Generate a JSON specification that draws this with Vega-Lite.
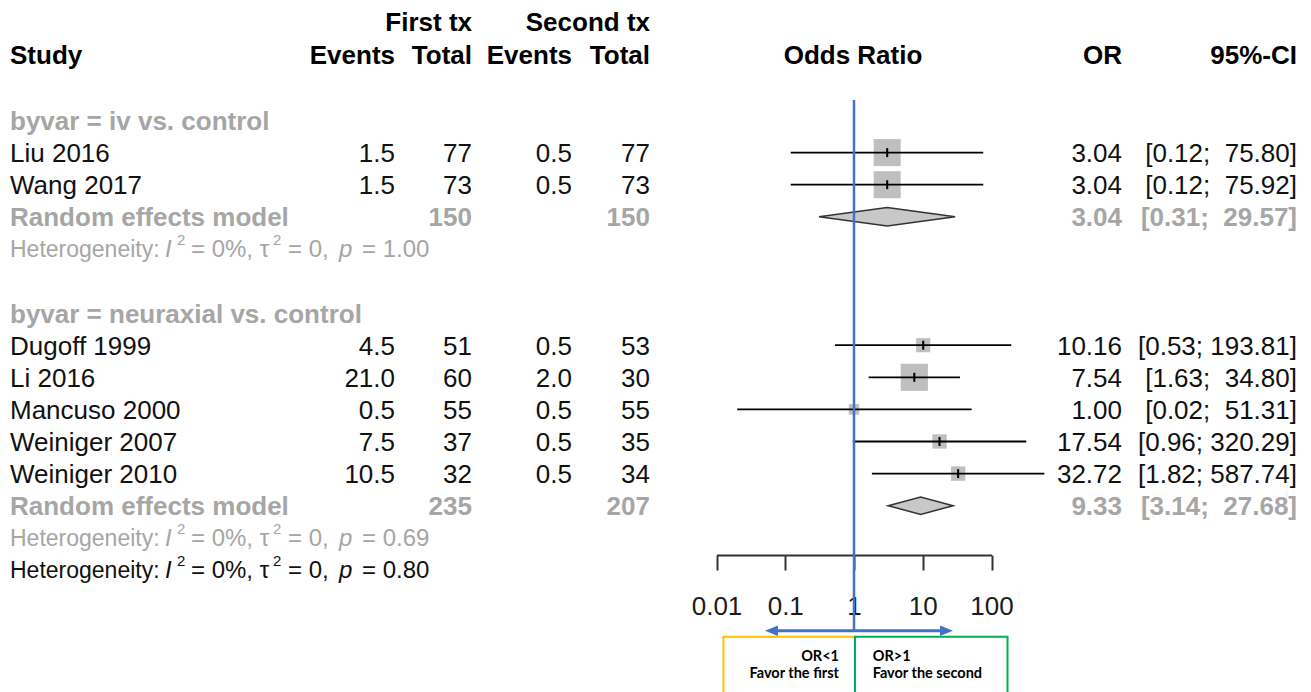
{
"$schema":"https://vega.github.io/schema/vega-lite/v6.json",
"width":1311,"height":692,"padding":0,"autosize":{"type":"none"},
"config":{"view":{"stroke":null},"text":{"font":"Liberation Sans","fontSize":26,"dy":1.5}},
"datasets":{
 "table":[
  {"row":-0.08,"kind":"header","n1":"First tx","n2":"Second tx"},
  {"row":0.93,"kind":"header","label":"Study","e1":"Events","n1":"Total","e2":"Events","n2":"Total","plot":"Odds Ratio","or":"OR","ci":"95%-CI"},
  {"row":3,"kind":"subgroup","label":"byvar = iv vs. control"},
  {"row":4,"kind":"study","label":"Liu 2016","e1":"1.5","n1":"77","e2":"0.5","n2":"77","or":"3.04","ci":"[0.12;\u00a0\u00a075.80]","est":3.04,"lower":0.12,"upper":75.80,"weight":50},
  {"row":5,"kind":"study","label":"Wang 2017","e1":"1.5","n1":"73","e2":"0.5","n2":"73","or":"3.04","ci":"[0.12;\u00a0\u00a075.92]","est":3.04,"lower":0.12,"upper":75.92,"weight":50},
  {"row":6,"kind":"pooled","label":"Random effects model","n1":"150","n2":"150","or":"3.04","ci":"[0.31;\u00a0\u00a029.57]"},
  {"row":7,"kind":"het_sub","hlabel":"Heterogeneity:","seg1":"= 0%, τ","seg2":"= 0,","seg3":"= 1.00"},
  {"row":9,"kind":"subgroup","label":"byvar = neuraxial vs. control"},
  {"row":10,"kind":"study","label":"Dugoff 1999","e1":"4.5","n1":"51","e2":"0.5","n2":"53","or":"10.16","ci":"[0.53; 193.81]","est":10.16,"lower":0.53,"upper":193.81,"weight":13.6},
  {"row":11,"kind":"study","label":"Li 2016","e1":"21.0","n1":"60","e2":"2.0","n2":"30","or":"7.54","ci":"[1.63;\u00a0\u00a034.80]","est":7.54,"lower":1.63,"upper":34.80,"weight":50.6},
  {"row":12,"kind":"study","label":"Mancuso 2000","e1":"0.5","n1":"55","e2":"0.5","n2":"55","or":"1.00","ci":"[0.02;\u00a0\u00a051.31]","est":1.00,"lower":0.02,"upper":51.31,"weight":7.6},
  {"row":13,"kind":"study","label":"Weiniger 2007","e1":"7.5","n1":"37","e2":"0.5","n2":"35","or":"17.54","ci":"[0.96; 320.29]","est":17.54,"lower":0.96,"upper":320.29,"weight":14.0},
  {"row":14,"kind":"study","label":"Weiniger 2010","e1":"10.5","n1":"32","e2":"0.5","n2":"34","or":"32.72","ci":"[1.82; 587.74]","est":32.72,"lower":1.82,"upper":587.74,"weight":14.2},
  {"row":15,"kind":"pooled","label":"Random effects model","n1":"235","n2":"207","or":"9.33","ci":"[3.14;\u00a0\u00a027.68]"},
  {"row":16,"kind":"het_sub","hlabel":"Heterogeneity:","seg1":"= 0%, τ","seg2":"= 0,","seg3":"= 0.69"},
  {"row":17,"kind":"het_all","hlabel":"Heterogeneity:","seg1":"= 0%, τ","seg2":"= 0,","seg3":"= 0.80"}
 ],
 "diamonds":[
  {"model":"iv vs. control","or":0.31,"top":6,"bottom":6},
  {"model":"iv vs. control","or":3.04,"top":5.71,"bottom":6.29},
  {"model":"iv vs. control","or":29.57,"top":6,"bottom":6},
  {"model":"neuraxial vs. control","or":3.14,"top":15,"bottom":15},
  {"model":"neuraxial vs. control","or":9.33,"top":14.73,"bottom":15.27},
  {"model":"neuraxial vs. control","or":27.68,"top":15,"bottom":15}
 ],
 "notes":[
  {"side":"first","head":"OR<1","text":"Favor the first"},
  {"side":"second","head":"OR>1","text":"Favor the second"}
 ]
},
"data":{"name":"table"},
"resolve":{"scale":{"x":"independent"}},
"layer":[
 {"layer":[
  {"transform":[{"filter":"isValid(datum.label) && (datum.kind==='header'||datum.kind==='subgroup'||datum.kind==='pooled')"}],
   "mark":{"type":"text","align":"left","baseline":"middle","fontWeight":"bold"},
   "encoding":{"x":{"datum":10,"type":"quantitative","scale":{"domain":[0,1311],"range":[0,1311],"nice":false,"zero":false},"axis":null},
    "y":{"field":"row","type":"quantitative","scale":{"domain":[-0.7539,20.804],"reverse":true,"nice":false,"zero":false},"axis":null},
    "text":{"field":"label","type":"nominal"},
    "color":{"field":"kind","type":"nominal","scale":{"domain":["header","study","subgroup","pooled","het_sub","het_all"],"range":["#000000","#111111","#a6a6a6","#a6a6a6","#a6a6a6","#111111"]},"legend":null}}},
  {"transform":[{"filter":"isValid(datum.label) && !(datum.kind==='header'||datum.kind==='subgroup'||datum.kind==='pooled')"}],
   "mark":{"type":"text","align":"left","baseline":"middle","fontWeight":"normal"},
   "encoding":{"x":{"datum":10,"type":"quantitative","scale":{"domain":[0,1311],"range":[0,1311],"nice":false,"zero":false},"axis":null},
    "y":{"field":"row","type":"quantitative","scale":{"domain":[-0.7539,20.804],"reverse":true,"nice":false,"zero":false},"axis":null},
    "text":{"field":"label","type":"nominal"},
    "color":{"field":"kind","type":"nominal","legend":null}}},
  {"transform":[{"filter":"isValid(datum.hlabel)"}],
   "mark":{"type":"text","align":"left","baseline":"middle","fontSize":23},
   "encoding":{"x":{"datum":10,"type":"quantitative","scale":{"domain":[0,1311],"range":[0,1311],"nice":false,"zero":false},"axis":null},
    "y":{"field":"row","type":"quantitative","scale":{"domain":[-0.7539,20.804],"reverse":true,"nice":false,"zero":false},"axis":null},
    "text":{"field":"hlabel","type":"nominal"},"color":{"field":"kind","type":"nominal","legend":null}}},
  {"transform":[{"filter":"isValid(datum.hlabel)"}],
   "mark":{"type":"text","align":"left","baseline":"middle","fontSize":24,"fontStyle":"italic"},
   "encoding":{"x":{"datum":165,"type":"quantitative","scale":{"domain":[0,1311],"range":[0,1311],"nice":false,"zero":false},"axis":null},
    "y":{"field":"row","type":"quantitative","scale":{"domain":[-0.7539,20.804],"reverse":true,"nice":false,"zero":false},"axis":null},
    "text":{"value":"I"},"color":{"field":"kind","type":"nominal","legend":null}}},
  {"transform":[{"filter":"isValid(datum.hlabel)"}],
   "mark":{"type":"text","align":"left","baseline":"middle","fontSize":15,"dy":-9},
   "encoding":{"x":{"datum":177,"type":"quantitative","scale":{"domain":[0,1311],"range":[0,1311],"nice":false,"zero":false},"axis":null},
    "y":{"field":"row","type":"quantitative","scale":{"domain":[-0.7539,20.804],"reverse":true,"nice":false,"zero":false},"axis":null},
    "text":{"value":"2"},"color":{"field":"kind","type":"nominal","legend":null}}},
  {"transform":[{"filter":"isValid(datum.hlabel)"}],
   "mark":{"type":"text","align":"left","baseline":"middle","fontSize":24},
   "encoding":{"x":{"datum":191,"type":"quantitative","scale":{"domain":[0,1311],"range":[0,1311],"nice":false,"zero":false},"axis":null},
    "y":{"field":"row","type":"quantitative","scale":{"domain":[-0.7539,20.804],"reverse":true,"nice":false,"zero":false},"axis":null},
    "text":{"field":"seg1","type":"nominal"},"color":{"field":"kind","type":"nominal","legend":null}}},
  {"transform":[{"filter":"isValid(datum.hlabel)"}],
   "mark":{"type":"text","align":"left","baseline":"middle","fontSize":15,"dy":-9},
   "encoding":{"x":{"datum":273,"type":"quantitative","scale":{"domain":[0,1311],"range":[0,1311],"nice":false,"zero":false},"axis":null},
    "y":{"field":"row","type":"quantitative","scale":{"domain":[-0.7539,20.804],"reverse":true,"nice":false,"zero":false},"axis":null},
    "text":{"value":"2"},"color":{"field":"kind","type":"nominal","legend":null}}},
  {"transform":[{"filter":"isValid(datum.hlabel)"}],
   "mark":{"type":"text","align":"left","baseline":"middle","fontSize":24},
   "encoding":{"x":{"datum":288,"type":"quantitative","scale":{"domain":[0,1311],"range":[0,1311],"nice":false,"zero":false},"axis":null},
    "y":{"field":"row","type":"quantitative","scale":{"domain":[-0.7539,20.804],"reverse":true,"nice":false,"zero":false},"axis":null},
    "text":{"field":"seg2","type":"nominal"},"color":{"field":"kind","type":"nominal","legend":null}}},
  {"transform":[{"filter":"isValid(datum.hlabel)"}],
   "mark":{"type":"text","align":"left","baseline":"middle","fontSize":24,"fontStyle":"italic"},
   "encoding":{"x":{"datum":339,"type":"quantitative","scale":{"domain":[0,1311],"range":[0,1311],"nice":false,"zero":false},"axis":null},
    "y":{"field":"row","type":"quantitative","scale":{"domain":[-0.7539,20.804],"reverse":true,"nice":false,"zero":false},"axis":null},
    "text":{"value":"p"},"color":{"field":"kind","type":"nominal","legend":null}}},
  {"transform":[{"filter":"isValid(datum.hlabel)"}],
   "mark":{"type":"text","align":"left","baseline":"middle","fontSize":24},
   "encoding":{"x":{"datum":362,"type":"quantitative","scale":{"domain":[0,1311],"range":[0,1311],"nice":false,"zero":false},"axis":null},
    "y":{"field":"row","type":"quantitative","scale":{"domain":[-0.7539,20.804],"reverse":true,"nice":false,"zero":false},"axis":null},
    "text":{"field":"seg3","type":"nominal"},"color":{"field":"kind","type":"nominal","legend":null}}},
  {"transform":[{"filter":"isValid(datum.e1) && (datum.kind==='header'||datum.kind==='subgroup'||datum.kind==='pooled')"}],
   "mark":{"type":"text","align":"right","baseline":"middle","fontWeight":"bold"},
   "encoding":{"x":{"datum":395,"type":"quantitative","scale":{"domain":[0,1311],"range":[0,1311],"nice":false,"zero":false},"axis":null},
    "y":{"field":"row","type":"quantitative","scale":{"domain":[-0.7539,20.804],"reverse":true,"nice":false,"zero":false},"axis":null},
    "text":{"field":"e1","type":"nominal"},"color":{"field":"kind","type":"nominal","legend":null}}},
  {"transform":[{"filter":"isValid(datum.e1) && !(datum.kind==='header'||datum.kind==='subgroup'||datum.kind==='pooled')"}],
   "mark":{"type":"text","align":"right","baseline":"middle","fontWeight":"normal"},
   "encoding":{"x":{"datum":395,"type":"quantitative","scale":{"domain":[0,1311],"range":[0,1311],"nice":false,"zero":false},"axis":null},
    "y":{"field":"row","type":"quantitative","scale":{"domain":[-0.7539,20.804],"reverse":true,"nice":false,"zero":false},"axis":null},
    "text":{"field":"e1","type":"nominal"},"color":{"field":"kind","type":"nominal","legend":null}}},
  {"transform":[{"filter":"isValid(datum.n1) && (datum.kind==='header'||datum.kind==='subgroup'||datum.kind==='pooled')"}],
   "mark":{"type":"text","align":"right","baseline":"middle","fontWeight":"bold"},
   "encoding":{"x":{"datum":472,"type":"quantitative","scale":{"domain":[0,1311],"range":[0,1311],"nice":false,"zero":false},"axis":null},
    "y":{"field":"row","type":"quantitative","scale":{"domain":[-0.7539,20.804],"reverse":true,"nice":false,"zero":false},"axis":null},
    "text":{"field":"n1","type":"nominal"},"color":{"field":"kind","type":"nominal","legend":null}}},
  {"transform":[{"filter":"isValid(datum.n1) && !(datum.kind==='header'||datum.kind==='subgroup'||datum.kind==='pooled')"}],
   "mark":{"type":"text","align":"right","baseline":"middle","fontWeight":"normal"},
   "encoding":{"x":{"datum":472,"type":"quantitative","scale":{"domain":[0,1311],"range":[0,1311],"nice":false,"zero":false},"axis":null},
    "y":{"field":"row","type":"quantitative","scale":{"domain":[-0.7539,20.804],"reverse":true,"nice":false,"zero":false},"axis":null},
    "text":{"field":"n1","type":"nominal"},"color":{"field":"kind","type":"nominal","legend":null}}},
  {"transform":[{"filter":"isValid(datum.e2) && (datum.kind==='header'||datum.kind==='subgroup'||datum.kind==='pooled')"}],
   "mark":{"type":"text","align":"right","baseline":"middle","fontWeight":"bold"},
   "encoding":{"x":{"datum":572,"type":"quantitative","scale":{"domain":[0,1311],"range":[0,1311],"nice":false,"zero":false},"axis":null},
    "y":{"field":"row","type":"quantitative","scale":{"domain":[-0.7539,20.804],"reverse":true,"nice":false,"zero":false},"axis":null},
    "text":{"field":"e2","type":"nominal"},"color":{"field":"kind","type":"nominal","legend":null}}},
  {"transform":[{"filter":"isValid(datum.e2) && !(datum.kind==='header'||datum.kind==='subgroup'||datum.kind==='pooled')"}],
   "mark":{"type":"text","align":"right","baseline":"middle","fontWeight":"normal"},
   "encoding":{"x":{"datum":572,"type":"quantitative","scale":{"domain":[0,1311],"range":[0,1311],"nice":false,"zero":false},"axis":null},
    "y":{"field":"row","type":"quantitative","scale":{"domain":[-0.7539,20.804],"reverse":true,"nice":false,"zero":false},"axis":null},
    "text":{"field":"e2","type":"nominal"},"color":{"field":"kind","type":"nominal","legend":null}}},
  {"transform":[{"filter":"isValid(datum.n2) && (datum.kind==='header'||datum.kind==='subgroup'||datum.kind==='pooled')"}],
   "mark":{"type":"text","align":"right","baseline":"middle","fontWeight":"bold"},
   "encoding":{"x":{"datum":650,"type":"quantitative","scale":{"domain":[0,1311],"range":[0,1311],"nice":false,"zero":false},"axis":null},
    "y":{"field":"row","type":"quantitative","scale":{"domain":[-0.7539,20.804],"reverse":true,"nice":false,"zero":false},"axis":null},
    "text":{"field":"n2","type":"nominal"},"color":{"field":"kind","type":"nominal","legend":null}}},
  {"transform":[{"filter":"isValid(datum.n2) && !(datum.kind==='header'||datum.kind==='subgroup'||datum.kind==='pooled')"}],
   "mark":{"type":"text","align":"right","baseline":"middle","fontWeight":"normal"},
   "encoding":{"x":{"datum":650,"type":"quantitative","scale":{"domain":[0,1311],"range":[0,1311],"nice":false,"zero":false},"axis":null},
    "y":{"field":"row","type":"quantitative","scale":{"domain":[-0.7539,20.804],"reverse":true,"nice":false,"zero":false},"axis":null},
    "text":{"field":"n2","type":"nominal"},"color":{"field":"kind","type":"nominal","legend":null}}},
  {"transform":[{"filter":"isValid(datum.plot)"}],
   "mark":{"type":"text","align":"center","baseline":"middle","fontWeight":"bold"},
   "encoding":{"x":{"datum":853,"type":"quantitative","scale":{"domain":[0,1311],"range":[0,1311],"nice":false,"zero":false},"axis":null},
    "y":{"field":"row","type":"quantitative","scale":{"domain":[-0.7539,20.804],"reverse":true,"nice":false,"zero":false},"axis":null},
    "text":{"field":"plot","type":"nominal"},"color":{"field":"kind","type":"nominal","legend":null}}},
  {"transform":[{"filter":"isValid(datum.or) && (datum.kind==='header'||datum.kind==='subgroup'||datum.kind==='pooled')"}],
   "mark":{"type":"text","align":"right","baseline":"middle","fontWeight":"bold"},
   "encoding":{"x":{"datum":1122,"type":"quantitative","scale":{"domain":[0,1311],"range":[0,1311],"nice":false,"zero":false},"axis":null},
    "y":{"field":"row","type":"quantitative","scale":{"domain":[-0.7539,20.804],"reverse":true,"nice":false,"zero":false},"axis":null},
    "text":{"field":"or","type":"nominal"},"color":{"field":"kind","type":"nominal","legend":null}}},
  {"transform":[{"filter":"isValid(datum.or) && !(datum.kind==='header'||datum.kind==='subgroup'||datum.kind==='pooled')"}],
   "mark":{"type":"text","align":"right","baseline":"middle","fontWeight":"normal"},
   "encoding":{"x":{"datum":1122,"type":"quantitative","scale":{"domain":[0,1311],"range":[0,1311],"nice":false,"zero":false},"axis":null},
    "y":{"field":"row","type":"quantitative","scale":{"domain":[-0.7539,20.804],"reverse":true,"nice":false,"zero":false},"axis":null},
    "text":{"field":"or","type":"nominal"},"color":{"field":"kind","type":"nominal","legend":null}}},
  {"transform":[{"filter":"isValid(datum.ci) && (datum.kind==='header'||datum.kind==='subgroup'||datum.kind==='pooled')"}],
   "mark":{"type":"text","align":"right","baseline":"middle","fontWeight":"bold"},
   "encoding":{"x":{"datum":1297,"type":"quantitative","scale":{"domain":[0,1311],"range":[0,1311],"nice":false,"zero":false},"axis":null},
    "y":{"field":"row","type":"quantitative","scale":{"domain":[-0.7539,20.804],"reverse":true,"nice":false,"zero":false},"axis":null},
    "text":{"field":"ci","type":"nominal"},"color":{"field":"kind","type":"nominal","legend":null}}},
  {"transform":[{"filter":"isValid(datum.ci) && !(datum.kind==='header'||datum.kind==='subgroup'||datum.kind==='pooled')"}],
   "mark":{"type":"text","align":"right","baseline":"middle","fontWeight":"normal"},
   "encoding":{"x":{"datum":1297,"type":"quantitative","scale":{"domain":[0,1311],"range":[0,1311],"nice":false,"zero":false},"axis":null},
    "y":{"field":"row","type":"quantitative","scale":{"domain":[-0.7539,20.804],"reverse":true,"nice":false,"zero":false},"axis":null},
    "text":{"field":"ci","type":"nominal"},"color":{"field":"kind","type":"nominal","legend":null}}},
  {"data":{"values":[{}]},
   "mark":{"type":"rect","filled":false,"stroke":"#FFC000","strokeWidth":2},
   "encoding":{"x":{"datum":723.5,"type":"quantitative","scale":{"domain":[0,1311],"range":[0,1311],"nice":false,"zero":false},"axis":null},"x2":{"datum":855},
    "y":{"datum":19.081,"type":"quantitative","scale":{"domain":[-0.7539,20.804],"reverse":true,"nice":false,"zero":false},"axis":null},"y2":{"datum":20.9}}},
  {"data":{"values":[{}]},
   "mark":{"type":"rect","filled":false,"stroke":"#00B050","strokeWidth":2},
   "encoding":{"x":{"datum":855,"type":"quantitative","scale":{"domain":[0,1311],"range":[0,1311],"nice":false,"zero":false},"axis":null},"x2":{"datum":1007.5},
    "y":{"datum":19.081,"type":"quantitative","scale":{"domain":[-0.7539,20.804],"reverse":true,"nice":false,"zero":false},"axis":null},"y2":{"datum":20.9}}},
  {"data":{"values":[{}]},
   "mark":{"type":"rule","color":"#4472C4","strokeWidth":3},
   "encoding":{"x":{"datum":776,"type":"quantitative","scale":{"domain":[0,1311],"range":[0,1311],"nice":false,"zero":false},"axis":null},"x2":{"datum":942},
    "y":{"datum":18.894,"type":"quantitative","scale":{"domain":[-0.7539,20.804],"reverse":true,"nice":false,"zero":false},"axis":null}}},
  {"data":{"values":[{}]},
   "mark":{"type":"point","shape":"M-1,0L1,-0.8L1,0.8Z","size":169,"filled":true,"color":"#4472C4","opacity":1,"strokeWidth":0},
   "encoding":{"x":{"datum":771.5,"type":"quantitative","scale":{"domain":[0,1311],"range":[0,1311],"nice":false,"zero":false},"axis":null},
    "y":{"datum":18.894,"type":"quantitative","scale":{"domain":[-0.7539,20.804],"reverse":true,"nice":false,"zero":false},"axis":null}}},
  {"data":{"values":[{}]},
   "mark":{"type":"point","shape":"M1,0L-1,-0.8L-1,0.8Z","size":169,"filled":true,"color":"#4472C4","opacity":1,"strokeWidth":0},
   "encoding":{"x":{"datum":946.5,"type":"quantitative","scale":{"domain":[0,1311],"range":[0,1311],"nice":false,"zero":false},"axis":null},
    "y":{"datum":18.894,"type":"quantitative","scale":{"domain":[-0.7539,20.804],"reverse":true,"nice":false,"zero":false},"axis":null}}},
  {"data":{"name":"notes"},"transform":[{"filter":"datum.side==='first'"}],
   "mark":{"type":"text","align":"right","baseline":"middle","font":"Lato","fontSize":14.5,"fontWeight":"bold","color":"#000000"},
   "encoding":{"x":{"datum":839,"type":"quantitative","scale":{"domain":[0,1311],"range":[0,1311],"nice":false,"zero":false},"axis":null},
    "y":{"datum":19.68,"type":"quantitative","scale":{"domain":[-0.7539,20.804],"reverse":true,"nice":false,"zero":false},"axis":null},
    "text":{"field":"head","type":"nominal"}}},
  {"data":{"name":"notes"},"transform":[{"filter":"datum.side==='first'"}],
   "mark":{"type":"text","align":"right","baseline":"middle","font":"Lato","fontSize":14.5,"fontWeight":"bold","color":"#000000"},
   "encoding":{"x":{"datum":839,"type":"quantitative","scale":{"domain":[0,1311],"range":[0,1311],"nice":false,"zero":false},"axis":null},
    "y":{"datum":20.21,"type":"quantitative","scale":{"domain":[-0.7539,20.804],"reverse":true,"nice":false,"zero":false},"axis":null},
    "text":{"field":"text","type":"nominal"}}},
  {"data":{"name":"notes"},"transform":[{"filter":"datum.side==='second'"}],
   "mark":{"type":"text","align":"left","baseline":"middle","font":"Lato","fontSize":14.5,"fontWeight":"bold","color":"#000000"},
   "encoding":{"x":{"datum":872.7,"type":"quantitative","scale":{"domain":[0,1311],"range":[0,1311],"nice":false,"zero":false},"axis":null},
    "y":{"datum":19.68,"type":"quantitative","scale":{"domain":[-0.7539,20.804],"reverse":true,"nice":false,"zero":false},"axis":null},
    "text":{"field":"head","type":"nominal"}}},
  {"data":{"name":"notes"},"transform":[{"filter":"datum.side==='second'"}],
   "mark":{"type":"text","align":"left","baseline":"middle","font":"Lato","fontSize":14.5,"fontWeight":"bold","color":"#000000"},
   "encoding":{"x":{"datum":872.7,"type":"quantitative","scale":{"domain":[0,1311],"range":[0,1311],"nice":false,"zero":false},"axis":null},
    "y":{"datum":20.21,"type":"quantitative","scale":{"domain":[-0.7539,20.804],"reverse":true,"nice":false,"zero":false},"axis":null},
    "text":{"field":"text","type":"nominal"}}}
 ]},
 {"layer":[
  {"transform":[{"filter":"datum.kind==='study'"}],
   "mark":{"type":"point","shape":"square","filled":true,"color":"#bfbfbf","opacity":1,"strokeWidth":0},
   "encoding":{"x":{"field":"est","type":"quantitative","scale":{"type":"log","domain":[0.01,100],"range":[716.5,991.5],"nice":false},
     "axis":{"orient":"bottom","offset":-137,"values":[0.01,0.1,1,10,100],"format":"~g","title":null,"grid":false,"domainColor":"#333333","domainWidth":2,"tickColor":"#333333","tickWidth":2,"tickSize":15,"labelFont":"Liberation Sans","labelFontSize":26,"labelColor":"#1a1a1a","labelPadding":23,"labelFlush":false,"labelOverlap":false,"labelBaseline":"top"}},
    "y":{"field":"row","type":"quantitative","scale":{"domain":[-0.7539,20.804],"reverse":true,"nice":false,"zero":false},"axis":null},
    "size":{"field":"weight","type":"quantitative","scale":{"domain":[0,50.6],"range":[0,740]},"legend":null}}},
  {"transform":[{"filter":"datum.kind==='study'"}],
   "mark":{"type":"rule","color":"#000000","strokeWidth":1.8},
   "encoding":{"x":{"field":"lower","type":"quantitative","scale":{"type":"log","domain":[0.01,100],"range":[716.5,991.5],"nice":false}},"x2":{"field":"upper"},
    "y":{"field":"row","type":"quantitative","scale":{"domain":[-0.7539,20.804],"reverse":true,"nice":false,"zero":false},"axis":null}}},
  {"transform":[{"filter":"datum.kind==='study'"}],
   "mark":{"type":"point","shape":"M0,-1L0,1","size":81,"filled":false,"color":"#000000","opacity":1,"strokeWidth":2},
   "encoding":{"x":{"field":"est","type":"quantitative","scale":{"type":"log","domain":[0.01,100],"range":[716.5,991.5],"nice":false}},
    "y":{"field":"row","type":"quantitative","scale":{"domain":[-0.7539,20.804],"reverse":true,"nice":false,"zero":false},"axis":null}}},
  {"data":{"name":"diamonds"},
   "mark":{"type":"area","fill":"#c8c8c8","stroke":"#333333","strokeWidth":1.5,"opacity":1},
   "encoding":{"x":{"field":"or","type":"quantitative","scale":{"type":"log","domain":[0.01,100],"range":[716.5,991.5],"nice":false}},
    "y":{"field":"top","type":"quantitative","scale":{"domain":[-0.7539,20.804],"reverse":true,"nice":false,"zero":false},"axis":null},
    "y2":{"field":"bottom"},"detail":{"field":"model","type":"nominal"}}},
  {"data":{"values":[{}]},
   "mark":{"type":"rule","color":"#4472C4","strokeWidth":2.5},
   "encoding":{"x":{"datum":1,"type":"quantitative","scale":{"type":"log","domain":[0.01,100],"range":[716.5,991.5],"nice":false}},
    "y":{"datum":2.36,"type":"quantitative","scale":{"domain":[-0.7539,20.804],"reverse":true,"nice":false,"zero":false},"axis":null},"y2":{"datum":18.894}}}
 ]}
]
}
